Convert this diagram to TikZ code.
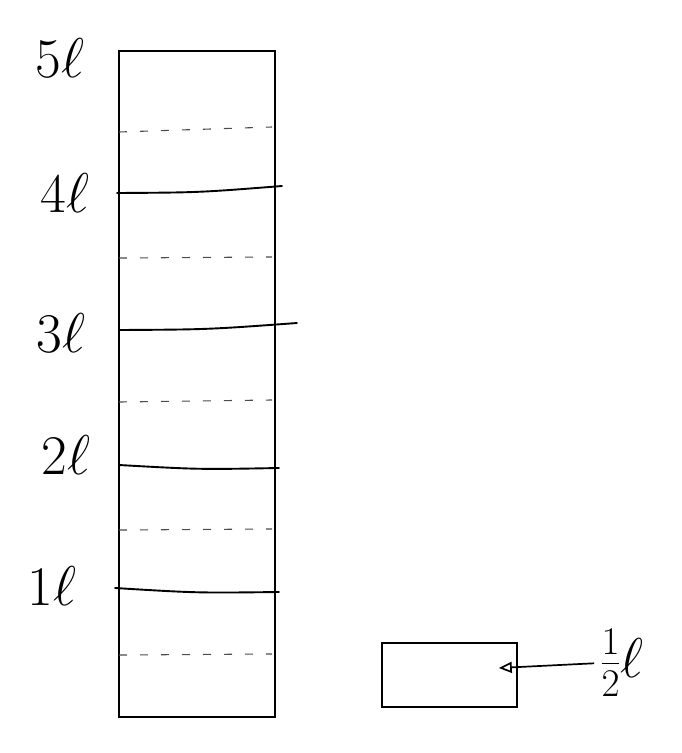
\documentclass[tikz,border=0pt]{standalone}
\usepackage{fix-cm}
\usepackage{amsmath}
\usepackage{tikz}
\usetikzlibrary{arrows.meta, positioning, calc}
\tikzset{
  wall/.style={draw=black, line width=1.6pt},
  fullmark/.style={draw=black, line width=1.9pt, line cap=round},
  halfmark/.style={draw=black!70, line width=1.1pt, dash pattern=on 8pt off 13pt},
  litre/.style={font=\fontsize{56}{60}\selectfont, inner sep=0pt},
}
\newcommand{\fullline}[4]{%
  \draw[fullmark] (#1,#2) .. controls ($(#1,#2)!0.5!(#3,#4)+(0,3)$) .. (#3,#4);%
}

\begin{document}
\begin{tikzpicture}[x=1pt, y=-1pt]
    \useasboundingbox (0,0) rectangle (681,753);

    % cylinder
    \draw[wall] (119,51) rectangle (275,717);

    % litre marks
    \fullline{117}{193}{282}{186}
    \fullline{119}{330}{297}{323}
    \fullline{119}{465}{279}{468}
    \fullline{115}{588}{279}{592}

    % half litre marks
    \foreach \y/\dy in {132/-5, 258/-1, 402/-2, 530/-1, 655/-1} {
      \draw[halfmark] (119,\y) -- (272,\y+\dy);
    }

    % labels
    \foreach \n/\x/\y in {5/60/58, 4/65/193, 3/61/333, 2/66/455, 1/52/586} {
      \node[litre] (l\n) at (\x,\y) {$\n\ell$};
    }

    % small vessel
    \node[wall, minimum width=135pt, minimum height=64pt, inner sep=0pt] (box) at (449.5,675) {};
    \node[litre] (half) at (622,663) {$\tfrac12\ell$};
    \coordinate (tip) at ($(box.east)+(-19,-7)$);
    \draw[line width=1.7pt, shorten <=6pt, -{Triangle[open, length=13pt, width=11pt]}] (half.west) -- (tip);
  \end{tikzpicture}
\end{document}
